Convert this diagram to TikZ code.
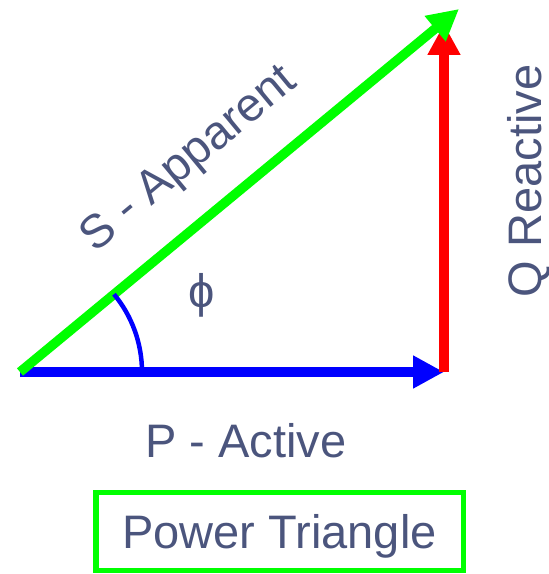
\documentclass[tikz,border=0pt]{standalone}
\usepackage{fontspec}
\setmainfont{Liberation Sans}
\usetikzlibrary{arrows.meta}
\definecolor{labelblue}{RGB}{75,85,125}
\definecolor{vgreen}{RGB}{0,255,0}
\newcommand{\labelfont}{\fontsize{47}{56}\selectfont}

\begin{document}
\begin{tikzpicture}[x=1pt, y=1pt,
        vec/.style={line width=9.5pt, -{Triangle[length=31pt,width=31pt]}},
        lbl/.style={text=labelblue, font=\labelfont, inner sep=0pt}]
    \useasboundingbox (0,0) rectangle (549,574);
    \coordinate (O) at (20,202); \coordinate (P) at (444,202); \coordinate (Q) at (444,550); \coordinate (S) at (459,565);
    % the three sides
    \draw[vec, color=blue] (O) -- (P);
    \draw[vec, color=red] (P) -- (Q);
    \draw[vec, color=vgreen] (O) -- (S);
    \draw[line width=4.5pt, color=blue] (142,202) arc[start angle=0, end angle=39.6, radius=122];
    % labels
    \node[lbl, anchor=base, rotate=39.6] (Slabel) at (197,405) {S - Apparent};
    \node[lbl, anchor=base, rotate=90] (Qlabel) at (541,393) {Q Reactive};
    \node[lbl] (phi) at (202,279) {ϕ};
    \node[lbl, anchor=base] (Plabel) at (246,116) {P - Active};
    \node[lbl, draw=vgreen, line width=5.5pt, minimum width=367.5pt, minimum height=78pt, text height=33.7pt, text depth=0pt] (title) at (279.5,42.5) {Power Triangle};
\end{tikzpicture}
\end{document}
